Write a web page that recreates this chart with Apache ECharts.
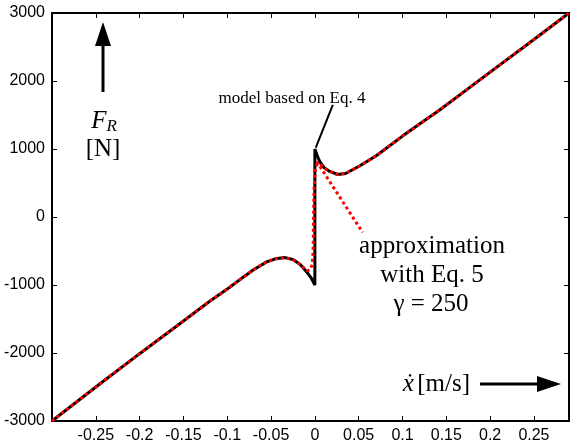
<!DOCTYPE html>
<html>
<head>
<meta charset="utf-8">
<script src="https://cdn.jsdelivr.net/npm/echarts@6/dist/echarts.min.js"></script>
<style>
  html, body { margin: 0; padding: 0; background: #fff; }
  #chart { width: 570px; height: 448px; }
</style>
</head>
<body>
<div id="chart"></div>
<script>
// model based on Eq. 4 (discontinuous at 0)
const modelX = [-0.3, -0.25, -0.2, -0.15, -0.12, -0.1, -0.085, -0.07, -0.055, -0.045, -0.034, -0.025, -0.017, -0.009, -0.004, 0,
                0, 0.003, 0.006, 0.011, 0.017, 0.026, 0.035, 0.051, 0.07, 0.085, 0.1, 0.119, 0.142, 0.17, 0.2, 0.25, 0.29];
const modelF = [-3000, -2500, -2010, -1530, -1240, -1060, -916, -775, -660, -615, -597, -625, -696, -813, -900, -1000,
                1000, 890, 805, 720, 670, 625, 640, 750, 900, 1044, 1190, 1363, 1570, 1840, 2130, 2610, 3000];

// approximation with Eq. 5, gamma = 250
const approxX = [-0.3, -0.25, -0.2, -0.15, -0.12, -0.1, -0.085, -0.07, -0.055, -0.045, -0.034, -0.025, -0.017, -0.009, -0.006, -0.003, -0.002, -0.0015, -0.001, 0.0005, 0.001, 0.004, 0.008,
                 0.011, 0.017, 0.026, 0.035, 0.051, 0.07, 0.085, 0.1, 0.119, 0.142, 0.17, 0.2, 0.25, 0.29];
const approxF = [-3000, -2500, -2010, -1530, -1240, -1060, -916, -775, -660, -615, -597, -625, -696, -790, -780, -700, -500, 0, 400, 700, 750, 790, 760,
                 720, 670, 625, 640, 750, 900, 1044, 1190, 1363, 1570, 1840, 2130, 2610, 3000];

// annotation pointer lines (data coords)
const modelPointerX = [0.001, 0.0205];
const modelPointerF = [1020, 1650];
const approxPointerX = [0.002, 0.0545];
const approxPointerF = [817, -227];

const xTicks = [-0.25, -0.2, -0.15, -0.1, -0.05, 0, 0.05, 0.1, 0.15, 0.2, 0.25];
const xTickLabels = ["-0.25", "-0.2", "-0.15", "-0.1", "-0.05", "0", "0.05", "0.1", "0.15", "0.2", "0.25"];
const yTicks = [-3000, -2000, -1000, 0, 1000, 2000, 3000];
const yTickLabels = ["-3000", "-2000", "-1000", "0", "1000", "2000", "3000"];

const pairs = (xs, ys) => xs.map((x, i) => [x, ys[i]]);

const chart = echarts.init(document.getElementById("chart"));

const tickStyle = { show: true, inside: true, length: 5, lineStyle: { color: "#000", width: 1 } };
const lineStyle = { show: true, onZero: false, lineStyle: { color: "#000", width: 2 } };
const serif = "'Liberation Serif', 'Times New Roman', serif";
const sans = "'Liberation Sans', Arial, sans-serif";

const option = {
    animation: false,
    grid: { left: 52, right: 1, top: 13, bottom: 27 },
    xAxis: [
        {
            type: "value",
            min: -0.3,
            max: 0.29,
            axisLine: lineStyle,
            axisTick: { ...tickStyle, customValues: xTicks },
            axisLabel: {
                customValues: xTicks,
                formatter: (v) => xTickLabels[xTicks.findIndex((t) => Math.abs(t - v) < 1e-9)],
                color: "#000",
                fontFamily: sans,
                fontSize: 16,
                margin: 7,
            },
            splitLine: { show: false },
        },
        {
            type: "value",
            position: "top",
            min: -0.3,
            max: 0.29,
            axisLine: lineStyle,
            axisTick: { ...tickStyle, customValues: xTicks },
            axisLabel: { show: false },
            splitLine: { show: false },
        },
    ],
    yAxis: [
        {
            type: "value",
            min: -3000,
            max: 3000,
            interval: 1000,
            axisLine: lineStyle,
            axisTick: tickStyle,
            axisLabel: {
                formatter: (v) => yTickLabels[yTicks.indexOf(v)],
                color: "#000",
                fontFamily: sans,
                fontSize: 16,
                margin: 7,
            },
            splitLine: { show: false },
        },
        {
            type: "value",
            position: "right",
            min: -3000,
            max: 3000,
            interval: 1000,
            axisLine: lineStyle,
            axisTick: tickStyle,
            axisLabel: { show: false },
            splitLine: { show: false },
        },
    ],
    series: [
        {
            type: "line",
            data: pairs(modelX, modelF),
            symbol: "none",
            lineStyle: { color: "#000", width: 3 },
            z: 2,
        },
        {
            type: "line",
            data: pairs(approxX, approxF),
            symbol: "none",
            lineStyle: { color: "#ff0000", width: 3, type: [3, 3] },
            z: 3,
        },
        {
            type: "line",
            data: pairs(modelPointerX, modelPointerF),
            symbol: "none",
            silent: true,
            lineStyle: { color: "#000", width: 2 },
            z: 4,
        },
        {
            type: "line",
            data: pairs(approxPointerX, approxPointerF),
            symbol: "none",
            silent: true,
            lineStyle: { color: "#ff0000", width: 3, type: [3, 3] },
            z: 4,
        },
    ],
    graphic: [
        // up arrow for F_R
        { type: "line", shape: { x1: 103, y1: 92, x2: 103, y2: 44 }, style: { stroke: "#000", lineWidth: 3 } },
        { type: "polygon", shape: { points: [[95, 46], [111, 46], [103, 22]] }, style: { fill: "#000" } },
        {
            type: "text", x: 104, y: 121,
            style: {
                text: "{f|F}{r|R}", align: "center", verticalAlign: "middle",
                rich: {
                    f: { fontFamily: serif, fontStyle: "italic", fontSize: 25, fill: "#000" },
                    r: { fontFamily: serif, fontStyle: "italic", fontSize: 17, fill: "#000", padding: [12, 0, 0, 0] },
                },
            },
        },
        { type: "text", x: 103, y: 149, style: { text: "[N]", align: "center", verticalAlign: "middle", font: "25px " + serif, fill: "#000" } },
        // model label
        { type: "text", x: 292, y: 99, style: { text: "model based on Eq. 4", align: "center", verticalAlign: "middle", font: "17px " + serif, fill: "#000" } },
        // approximation label
        { type: "text", x: 432, y: 246, style: { text: "approximation", align: "center", verticalAlign: "middle", font: "25px " + serif, fill: "#000" } },
        { type: "text", x: 432, y: 275, style: { text: "with Eq. 5", align: "center", verticalAlign: "middle", font: "25px " + serif, fill: "#000" } },
        { type: "text", x: 431, y: 304, style: { text: "γ = 250", align: "center", verticalAlign: "middle", font: "25px " + serif, fill: "#000" } },
        // x axis label and arrow
        {
            type: "text", x: 470, y: 384,
            style: {
                text: "{x|ẋ} {u|[m/s]}", align: "right", verticalAlign: "middle",
                rich: {
                    x: { fontFamily: serif, fontStyle: "italic", fontSize: 25, fill: "#000" },
                    u: { fontFamily: serif, fontSize: 25, fill: "#000" },
                },
            },
        },
        { type: "line", shape: { x1: 480, y1: 384, x2: 540, y2: 384 }, style: { stroke: "#000", lineWidth: 3 } },
        { type: "polygon", shape: { points: [[537, 376], [537, 392], [561, 384]] }, style: { fill: "#000" } },
    ],
};

chart.setOption(option);
</script>
</body>
</html>
